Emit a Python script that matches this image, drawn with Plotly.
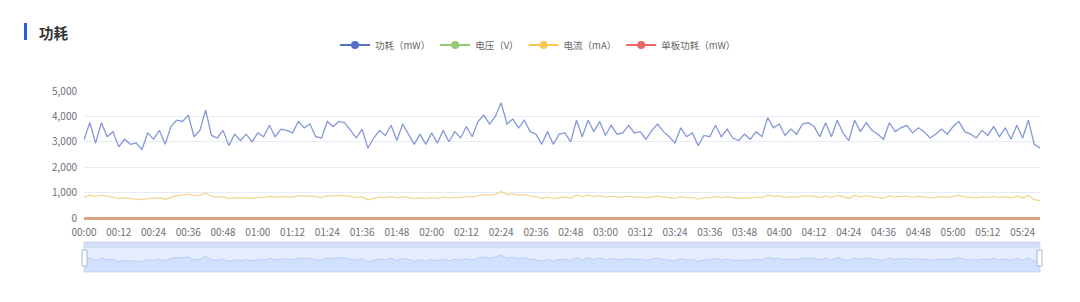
import plotly.graph_objects as go

# ---------------- data ----------------
# time categories every 2 minutes from 00:00 to 05:30
times = ["%02d:%02d" % (m // 60, m % 60) for m in range(0, 332, 2)]
tick_labels = ["%02d:%02d" % (m // 60, m % 60) for m in range(0, 325, 12)]

power_mw = [
    3070, 3760, 2950, 3750, 3200, 3400, 2800, 3100, 2900, 2950,
    2700, 3350, 3100, 3450, 2900, 3600, 3850, 3800, 4050, 3200,
    3450, 4250, 3250, 3150, 3450, 2850, 3300, 3050, 3300, 3000,
    3350, 3200, 3650, 3200, 3500, 3450, 3350, 3800, 3550, 3700,
    3200, 3150, 3800, 3600, 3800, 3750, 3450, 3150, 3500, 2750,
    3150, 3450, 3250, 3650, 3050, 3700, 3300, 2900, 3300, 2900,
    3350, 2950, 3450, 3000, 3400, 3150, 3600, 3200, 3800, 4050,
    3700, 4000, 4540, 3700, 3900, 3550, 3850, 3400, 3300, 2900,
    3400, 2900, 3300, 3350, 3000, 3850, 3200, 3850, 3400, 3800,
    3250, 3650, 3300, 3350, 3650, 3350, 3400, 3100, 3450, 3700,
    3400, 3200, 2950, 3550, 3200, 3350, 2850, 3250, 3200, 3650,
    3200, 3500, 3150, 3050, 3300, 3100, 3400, 3200, 3950, 3550,
    3700, 3250, 3500, 3300, 3700, 3750, 3600, 3200, 3750, 3200,
    3850, 3350, 3050, 3850, 3400, 3750, 3450, 3300, 3100, 3750,
    3400, 3550, 3650, 3350, 3550, 3400, 3150, 3300, 3500, 3300,
    3600, 3800, 3400, 3300, 3150, 3450, 3250, 3600, 3200, 3550,
    3100, 3650, 3150, 3850, 2900, 2750,
]

voltage_v = [
    12.1, 12.0, 12.1, 12.0, 12.0, 12.1, 12.0, 12.0, 12.1, 12.0,
    12.0, 12.1, 12.0, 12.0, 12.1, 12.0, 12.0, 12.1, 12.0, 12.0,
    12.1, 12.0, 12.0, 12.1, 12.0, 12.0, 12.1, 12.0, 12.0, 12.1,
    12.0, 12.0, 12.1, 12.0, 12.0, 12.1, 12.0, 12.0, 12.1, 12.0,
    12.0, 12.1, 12.0, 12.0, 12.1, 12.0, 12.0, 12.1, 12.0, 12.0,
    12.1, 12.0, 12.0, 12.1, 12.0, 12.0, 12.1, 12.0, 12.0, 12.1,
    12.0, 12.0, 12.1, 12.0, 12.0, 12.1, 12.0, 12.0, 12.1, 12.0,
    12.0, 12.1, 12.0, 12.0, 12.1, 12.0, 12.0, 12.1, 12.0, 12.0,
    12.1, 12.0, 12.0, 12.1, 12.0, 12.0, 12.1, 12.0, 12.0, 12.1,
    12.0, 12.0, 12.1, 12.0, 12.0, 12.1, 12.0, 12.0, 12.1, 12.0,
    12.0, 12.1, 12.0, 12.0, 12.1, 12.0, 12.0, 12.1, 12.0, 12.0,
    12.1, 12.0, 12.0, 12.1, 12.0, 12.0, 12.1, 12.0, 12.0, 12.1,
    12.0, 12.0, 12.1, 12.0, 12.0, 12.1, 12.0, 12.0, 12.1, 12.0,
    12.0, 12.1, 12.0, 12.0, 12.1, 12.0, 12.0, 12.1, 12.0, 12.0,
    12.1, 12.0, 12.0, 12.1, 12.0, 12.0, 12.1, 12.0, 12.0, 12.1,
    12.0, 12.0, 12.1, 12.0, 12.0, 12.1, 12.0, 12.0, 12.1, 12.0,
    12.0, 12.1, 12.0, 12.0, 12.1, 12.0,
]

current_ma = [
    800, 900, 850, 900, 850, 820, 760, 800, 760, 740,
    720, 760, 780, 800, 740, 820, 880, 900, 950, 880,
    900, 980, 860, 820, 840, 760, 800, 780, 800, 770,
    810, 800, 850, 820, 840, 830, 820, 880, 860, 870,
    820, 800, 880, 860, 890, 880, 850, 800, 830, 720,
    780, 820, 800, 850, 780, 840, 800, 760, 800, 760,
    810, 770, 820, 780, 810, 800, 850, 820, 880, 920,
    900, 930, 1040, 920, 950, 900, 920, 860, 840, 770,
    820, 760, 800, 820, 780, 900, 840, 900, 850, 880,
    820, 860, 820, 820, 860, 820, 830, 790, 830, 860,
    830, 800, 770, 840, 800, 810, 740, 790, 790, 850,
    800, 830, 790, 770, 800, 780, 820, 800, 900, 850,
    870, 810, 840, 820, 860, 870, 850, 800, 870, 800,
    890, 830, 780, 890, 830, 870, 830, 810, 780, 870,
    830, 850, 860, 820, 850, 830, 790, 810, 840, 810,
    850, 890, 830, 810, 790, 830, 800, 850, 800, 840,
    780, 860, 790, 900, 720, 680,
]

board_power_mw = [
    0, 0, 0, 0, 0, 0, 0, 0, 0, 0, 0, 0, 0, 0, 0, 0, 0, 0, 0, 0,
    0, 0, 0, 0, 0, 0, 0, 0, 0, 0, 0, 0, 0, 0, 0, 0, 0, 0, 0, 0,
    0, 0, 0, 0, 0, 0, 0, 0, 0, 0, 0, 0, 0, 0, 0, 0, 0, 0, 0, 0,
    0, 0, 0, 0, 0, 0, 0, 0, 0, 0, 0, 0, 0, 0, 0, 0, 0, 0, 0, 0,
    0, 0, 0, 0, 0, 0, 0, 0, 0, 0, 0, 0, 0, 0, 0, 0, 0, 0, 0, 0,
    0, 0, 0, 0, 0, 0, 0, 0, 0, 0, 0, 0, 0, 0, 0, 0, 0, 0, 0, 0,
    0, 0, 0, 0, 0, 0, 0, 0, 0, 0, 0, 0, 0, 0, 0, 0, 0, 0, 0, 0,
    0, 0, 0, 0, 0, 0, 0, 0, 0, 0, 0, 0, 0, 0, 0, 0, 0, 0, 0, 0,
    0, 0, 0, 0, 0, 0,
]

series_names = ["功耗（mW）", "电压（V）", "电流（mA）", "单板功耗（mW）"]
legend_colors = ["#5470c6", "#91cc75", "#fac858", "#ee6666"]
line_colors = ["#8499d6", "#a8d68f", "#f3d690", "#dc9f80"]

# ---------------- layout geometry ----------------
W, H = 1080, 302
ML, MR, MT, MB = 84, 40, 91, 30
PW, PH = W - ML - MR, H - MT - MB


def px_x(px):
    return (px - ML) / PW


def px_y(py):
    return (H - MB - py) / PH


FONT = "Noto Sans CJK SC, Noto Sans, sans-serif"

fig = go.Figure()

all_series = [power_mw, voltage_v, current_ma, board_power_mw]
widths = [1.3, 1.5, 1.3, 2.0]
for vals, name, col, w in zip(all_series, series_names, line_colors, widths):
    fig.add_trace(go.Scatter(
        x=times, y=vals, mode="lines", name=name, showlegend=False,
        line=dict(color=col, width=w), xaxis="x", yaxis="y",
    ))

# legend entries (line + circle icon)
for name, col in zip(series_names, legend_colors):
    fig.add_trace(go.Scatter(
        x=[None], y=[None], mode="lines+markers", name=name,
        line=dict(color=col, width=2), marker=dict(color=col, size=8),
        xaxis="x", yaxis="y",
    ))

# data-zoom slider shadow
fig.add_trace(go.Scatter(
    x=times, y=power_mw, mode="lines", showlegend=False,
    line=dict(color="#b3c6f2", width=0.8), fill="tozeroy",
    fillcolor="rgba(143,176,247,0.22)", xaxis="x2", yaxis="y2",
))

n = len(times)
main_bottom = px_y(218)

fig.update_layout(
    width=W, height=H,
    margin=dict(l=ML, r=MR, t=MT, b=MB),
    paper_bgcolor="white", plot_bgcolor="white",
    font=dict(family=FONT, size=10, color="#6e7079"),
    xaxis=dict(
        type="category", range=[0, n - 1], domain=[0, 1], anchor="y",
        tickmode="array", tickvals=tick_labels, ticktext=tick_labels,
        showgrid=False, showline=True, linecolor="#d9a183", linewidth=1.5,
        ticks="", ticklabelstandoff=4, zeroline=False,
        tickfont=dict(size=10, color="#6e7079"),
    ),
    yaxis=dict(
        range=[0, 5000], domain=[main_bottom, 1], anchor="x",
        tickvals=[0, 1000, 2000, 3000, 4000, 5000], tickformat=",d",
        showgrid=True, gridcolor="#e6ebf4", gridwidth=1, zeroline=False,
        showline=False, ticks="", ticklabelstandoff=6,
        tickfont=dict(size=10, color="#6e7079"),
    ),
    xaxis2=dict(
        type="category", range=[0, n - 1], domain=[0, 1], anchor="y2",
        showticklabels=False, showgrid=False, zeroline=False, ticks="",
    ),
    yaxis2=dict(
        range=[0, 8000], domain=[0, px_y(242)], anchor="x2",
        showticklabels=False, showgrid=False, zeroline=False, ticks="",
    ),
    legend=dict(
        orientation="h", x=px_x(538), xanchor="center",
        y=px_y(45), yanchor="middle",
        font=dict(size=9.5, color="#666666", family=FONT),
        itemwidth=30, bgcolor="rgba(0,0,0,0)",
    ),
    shapes=[
        # title bar
        dict(type="rect", xref="paper", yref="paper",
             x0=px_x(24), x1=px_x(27), y0=px_y(40), y1=px_y(23),
             fillcolor="#2b5fd0", line=dict(width=0), layer="above"),
        # slider background
        dict(type="rect", xref="x2 domain", yref="y2 domain",
             x0=0, x1=1, y0=0, y1=1,
             fillcolor="rgba(135,175,254,0.22)",
             line=dict(color="#d2dbee", width=1), layer="below"),
        # slider move band
        dict(type="rect", xref="x2 domain", yref="y2 domain",
             x0=0, x1=1, y0=0.8, y1=1,
             fillcolor="rgba(180,196,230,0.35)", line=dict(width=0),
             layer="below"),
        # handles
        dict(type="rect", xref="paper", yref="paper",
             x0=px_x(82), x1=px_x(87), y0=px_y(266), y1=px_y(250),
             fillcolor="white", line=dict(color="#acb8d1", width=1),
             layer="above"),
        dict(type="rect", xref="paper", yref="paper",
             x0=px_x(1037), x1=px_x(1042), y0=px_y(266), y1=px_y(250),
             fillcolor="white", line=dict(color="#acb8d1", width=1),
             layer="above"),
    ],
    annotations=[
        dict(text="<b>功耗</b>", xref="paper", yref="paper",
             x=px_x(37), y=px_y(32), xanchor="left", yanchor="middle",
             showarrow=False, font=dict(size=14.5, color="#333333", family=FONT)),
    ],
)

fig.write_html("out.html")
